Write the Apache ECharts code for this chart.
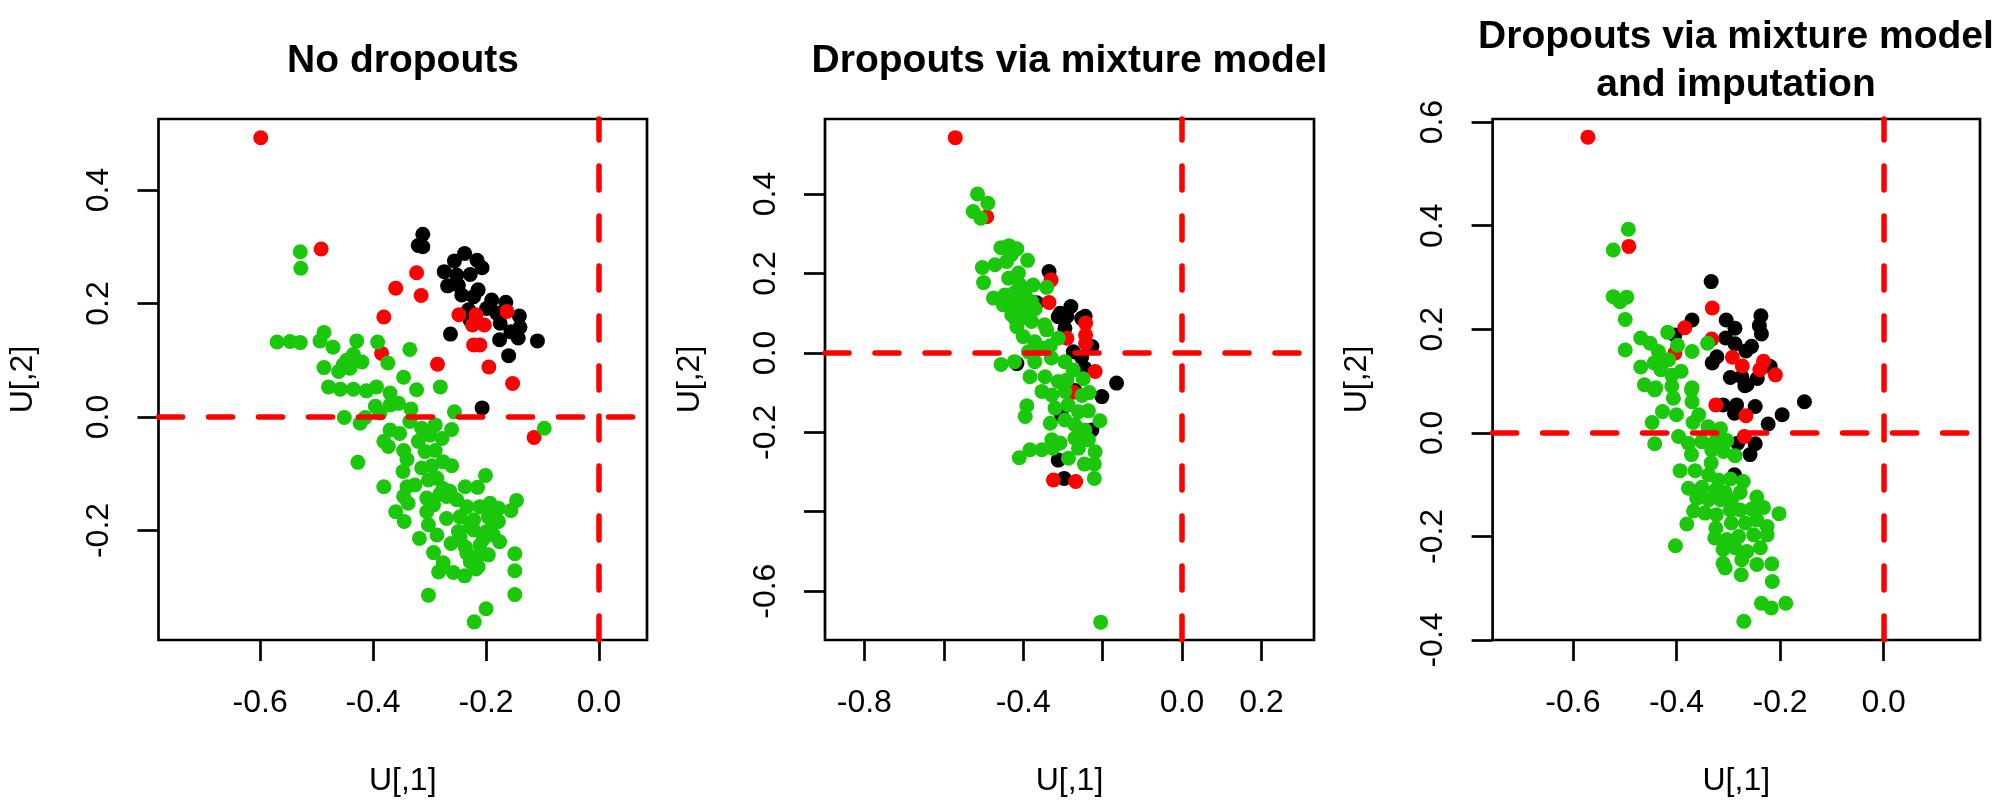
<!DOCTYPE html>
<html>
<head>
<meta charset="utf-8">
<script src="https://cdn.jsdelivr.net/npm/echarts@6/dist/echarts.min.js"></script>
<style>html,body{margin:0;padding:0;background:#fff}#c{width:2000px;height:800px}</style>
</head>
<body>
<div id="c"></div>
<script>
// ---------- Panel titles ----------
const titles = ['No dropouts', 'Dropouts via mixture model', 'Dropouts via mixture model\nand imputation'];

// ---------- Tick values ----------
const p1XTicks = [-0.6, -0.4, -0.2, 0.0];
const p1XLabels = [-0.6, -0.4, -0.2, 0.0];
const p1YTicks = [-0.2, 0.0, 0.2, 0.4];
const p1YLabels = [-0.2, 0.0, 0.2, 0.4];
const p2XTicks = [-0.8, -0.6, -0.4, -0.2, 0.0, 0.2];
const p2XLabels = [-0.8, -0.4, 0.0, 0.2];
const p2YTicks = [-0.6, -0.4, -0.2, 0.0, 0.2, 0.4];
const p2YLabels = [-0.6, -0.2, 0.0, 0.2, 0.4];
const p3XTicks = [-0.6, -0.4, -0.2, 0.0];
const p3XLabels = [-0.6, -0.4, -0.2, 0.0];
const p3YTicks = [-0.4, -0.2, 0.0, 0.2, 0.4, 0.6];
const p3YLabels = [-0.4, -0.2, 0.0, 0.2, 0.4, 0.6];

// ---------- Panel 1: No dropouts ----------
const p1Black = [[-0.312,0.322],[-0.320,0.302],[-0.312,0.300],[-0.238,0.288],[-0.256,0.275],[-0.216,0.276],[-0.207,0.263],[-0.274,0.256],[-0.228,0.251],[-0.252,0.250],[-0.268,0.231],[-0.249,0.232],[-0.243,0.215],[-0.214,0.224],[-0.222,0.212],[-0.190,0.206],[-0.165,0.202],[-0.199,0.191],[-0.231,0.189],[-0.181,0.183],[-0.141,0.178],[-0.175,0.165],[-0.140,0.158],[-0.228,0.170],[-0.156,0.150],[-0.176,0.136],[-0.143,0.139],[-0.109,0.134],[-0.263,0.146],[-0.160,0.108],[-0.207,0.016]];
const p1Red = [[-0.599,0.492],[-0.492,0.296],[-0.323,0.254],[-0.360,0.227],[-0.315,0.214],[-0.381,0.176],[-0.248,0.180],[-0.218,0.180],[-0.224,0.162],[-0.203,0.162],[-0.163,0.186],[-0.222,0.127],[-0.211,0.127],[-0.385,0.112],[-0.286,0.093],[-0.195,0.088],[-0.153,0.059],[-0.115,-0.036]];
const p1Green = [[-0.529,0.291],[-0.528,0.262],[-0.570,0.132],[-0.547,0.133],[-0.529,0.131],[-0.494,0.134],[-0.487,0.149],[-0.471,0.123],[-0.429,0.134],[-0.392,0.132],[-0.335,0.119],[-0.435,0.110],[-0.487,0.087],[-0.461,0.080],[-0.441,0.086],[-0.420,0.097],[-0.447,0.100],[-0.453,0.092],[-0.374,0.095],[-0.346,0.070],[-0.281,0.053],[-0.323,0.048],[-0.479,0.053],[-0.458,0.049],[-0.435,0.049],[-0.412,0.046],[-0.394,0.053],[-0.370,0.042],[-0.355,0.024],[-0.370,0.021],[-0.396,0.019],[-0.388,0.007],[-0.333,0.014],[-0.256,0.009],[-0.451,-0.001],[-0.423,-0.011],[-0.414,-0.001],[-0.335,-0.008],[-0.370,-0.023],[-0.353,-0.029],[-0.314,-0.020],[-0.290,-0.014],[-0.261,-0.022],[-0.381,-0.043],[-0.373,-0.052],[-0.346,-0.059],[-0.320,-0.043],[-0.299,-0.032],[-0.278,-0.038],[-0.308,-0.061],[-0.290,-0.059],[-0.340,-0.075],[-0.427,-0.080],[-0.314,-0.090],[-0.296,-0.086],[-0.276,-0.079],[-0.261,-0.086],[-0.347,-0.096],[-0.287,-0.108],[-0.302,-0.111],[-0.201,-0.103],[-0.381,-0.123],[-0.340,-0.123],[-0.326,-0.120],[-0.276,-0.126],[-0.237,-0.123],[-0.215,-0.124],[-0.346,-0.140],[-0.338,-0.152],[-0.305,-0.143],[-0.293,-0.155],[-0.270,-0.140],[-0.252,-0.146],[-0.234,-0.158],[-0.211,-0.158],[-0.193,-0.152],[-0.178,-0.161],[-0.146,-0.147],[-0.156,-0.165],[-0.360,-0.167],[-0.345,-0.184],[-0.305,-0.167],[-0.270,-0.179],[-0.246,-0.176],[-0.222,-0.181],[-0.196,-0.176],[-0.178,-0.184],[-0.302,-0.190],[-0.287,-0.208],[-0.249,-0.202],[-0.228,-0.193],[-0.199,-0.202],[-0.187,-0.208],[-0.318,-0.214],[-0.262,-0.223],[-0.237,-0.229],[-0.211,-0.226],[-0.176,-0.220],[-0.293,-0.239],[-0.234,-0.240],[-0.211,-0.243],[-0.196,-0.243],[-0.149,-0.241],[-0.276,-0.257],[-0.228,-0.255],[-0.214,-0.264],[-0.284,-0.273],[-0.258,-0.274],[-0.238,-0.280],[-0.218,-0.268],[-0.149,-0.271],[-0.302,-0.314],[-0.149,-0.313],[-0.200,-0.338],[-0.221,-0.361],[-0.097,-0.020],[-0.264,-0.131],[-0.282,-0.136],[-0.222,-0.199],[-0.205,-0.215],[-0.187,-0.188],[-0.246,-0.211]];

// ---------- Panel 2: Dropouts via mixture model ----------
const p2Black = [[-0.335,0.205],[-0.307,0.100],[-0.280,0.117],[-0.290,0.092],[-0.244,0.092],[-0.366,0.126],[-0.312,0.091],[-0.295,0.062],[-0.253,0.087],[-0.227,0.016],[-0.274,0.003],[-0.416,-0.027],[-0.245,-0.039],[-0.165,-0.076],[-0.202,-0.110],[-0.304,-0.156],[-0.227,-0.194],[-0.312,-0.270],[-0.297,-0.316],[-0.270,-0.095],[-0.253,-0.011]];
const p2Red = [[-0.571,0.542],[-0.492,0.343],[-0.330,0.184],[-0.335,0.127],[-0.243,0.075],[-0.243,0.045],[-0.243,0.024],[-0.290,0.037],[-0.219,-0.047],[-0.274,-0.099],[-0.324,-0.320],[-0.268,-0.324]];
const p2Green = [[-0.515,0.400],[-0.489,0.377],[-0.526,0.356],[-0.507,0.339],[-0.456,0.265],[-0.436,0.270],[-0.416,0.262],[-0.389,0.233],[-0.503,0.215],[-0.471,0.222],[-0.442,0.230],[-0.430,0.247],[-0.500,0.177],[-0.437,0.188],[-0.412,0.201],[-0.408,0.171],[-0.375,0.171],[-0.341,0.165],[-0.475,0.138],[-0.446,0.146],[-0.421,0.152],[-0.395,0.146],[-0.379,0.129],[-0.450,0.121],[-0.421,0.121],[-0.400,0.113],[-0.370,0.111],[-0.429,0.096],[-0.406,0.087],[-0.383,0.085],[-0.346,0.071],[-0.421,0.087],[-0.379,0.079],[-0.416,0.066],[-0.341,0.058],[-0.312,0.037],[-0.400,0.041],[-0.371,0.028],[-0.387,0.003],[-0.353,0.012],[-0.332,0.018],[-0.456,-0.029],[-0.422,-0.022],[-0.371,-0.022],[-0.329,-0.013],[-0.295,-0.022],[-0.274,-0.043],[-0.383,-0.060],[-0.345,-0.060],[-0.312,-0.072],[-0.249,-0.065],[-0.353,-0.097],[-0.328,-0.106],[-0.295,-0.097],[-0.234,-0.100],[-0.391,-0.133],[-0.395,-0.160],[-0.320,-0.139],[-0.287,-0.131],[-0.261,-0.148],[-0.236,-0.146],[-0.332,-0.177],[-0.295,-0.169],[-0.270,-0.181],[-0.207,-0.171],[-0.245,-0.194],[-0.328,-0.219],[-0.307,-0.227],[-0.270,-0.215],[-0.236,-0.219],[-0.410,-0.264],[-0.383,-0.244],[-0.353,-0.244],[-0.326,-0.240],[-0.286,-0.265],[-0.261,-0.240],[-0.219,-0.249],[-0.246,-0.280],[-0.221,-0.280],[-0.221,-0.316],[-0.290,-0.068],[-0.252,-0.107],[-0.205,-0.678]];

// ---------- Panel 3: Dropouts via mixture model and imputation ----------
const p3Black = [[-0.333,0.292],[-0.370,0.218],[-0.403,0.189],[-0.304,0.218],[-0.287,0.202],[-0.237,0.226],[-0.240,0.207],[-0.236,0.191],[-0.305,0.183],[-0.287,0.172],[-0.255,0.167],[-0.266,0.158],[-0.322,0.147],[-0.331,0.135],[-0.219,0.128],[-0.296,0.107],[-0.274,0.108],[-0.264,0.093],[-0.244,0.105],[-0.268,0.091],[-0.310,0.054],[-0.284,0.054],[-0.248,0.051],[-0.288,0.038],[-0.196,0.035],[-0.153,0.060],[-0.223,0.017],[-0.282,-0.020],[-0.248,-0.021],[-0.258,-0.042],[-0.288,-0.081]];
const p3Red = [[-0.571,0.571],[-0.492,0.360],[-0.331,0.241],[-0.384,0.203],[-0.332,0.181],[-0.403,0.154],[-0.292,0.146],[-0.273,0.129],[-0.232,0.138],[-0.239,0.122],[-0.209,0.112],[-0.324,0.054],[-0.266,0.033],[-0.269,-0.007]];
const p3Green = [[-0.493,0.393],[-0.522,0.353],[-0.522,0.263],[-0.496,0.262],[-0.509,0.253],[-0.499,0.219],[-0.499,0.160],[-0.469,0.183],[-0.451,0.173],[-0.435,0.157],[-0.417,0.194],[-0.398,0.169],[-0.370,0.157],[-0.340,0.173],[-0.469,0.127],[-0.443,0.135],[-0.427,0.141],[-0.415,0.141],[-0.430,0.122],[-0.391,0.119],[-0.409,0.111],[-0.462,0.093],[-0.440,0.087],[-0.370,0.087],[-0.442,0.083],[-0.409,0.090],[-0.371,0.083],[-0.370,0.060],[-0.406,0.067],[-0.427,0.041],[-0.400,0.035],[-0.357,0.035],[-0.447,0.020],[-0.368,0.020],[-0.339,0.012],[-0.315,0.008],[-0.442,-0.021],[-0.396,-0.007],[-0.377,-0.020],[-0.351,-0.017],[-0.325,-0.017],[-0.303,-0.015],[-0.371,-0.042],[-0.332,-0.033],[-0.309,-0.036],[-0.287,-0.044],[-0.333,-0.058],[-0.393,-0.073],[-0.364,-0.073],[-0.338,-0.081],[-0.319,-0.091],[-0.296,-0.089],[-0.271,-0.094],[-0.377,-0.107],[-0.351,-0.105],[-0.325,-0.111],[-0.306,-0.115],[-0.277,-0.115],[-0.361,-0.126],[-0.338,-0.129],[-0.315,-0.129],[-0.294,-0.130],[-0.245,-0.124],[-0.367,-0.151],[-0.345,-0.155],[-0.323,-0.158],[-0.296,-0.149],[-0.277,-0.149],[-0.255,-0.147],[-0.232,-0.144],[-0.202,-0.156],[-0.380,-0.176],[-0.324,-0.184],[-0.294,-0.174],[-0.267,-0.174],[-0.245,-0.168],[-0.225,-0.181],[-0.326,-0.203],[-0.303,-0.206],[-0.280,-0.200],[-0.251,-0.197],[-0.225,-0.197],[-0.402,-0.218],[-0.310,-0.225],[-0.287,-0.222],[-0.264,-0.229],[-0.238,-0.222],[-0.310,-0.252],[-0.306,-0.261],[-0.274,-0.245],[-0.245,-0.254],[-0.216,-0.253],[-0.275,-0.274],[-0.215,-0.287],[-0.236,-0.329],[-0.217,-0.338],[-0.189,-0.329],[-0.270,-0.364]];

// ---------- Axis ranges ----------
const p1XRange = [-0.780, 0.085], p1YRange = [-0.393, 0.525];
const p2XRange = [-0.899, 0.332], p2YRange = [-0.723, 0.589];
const p3XRange = [-0.755, 0.186], p3YRange = [-0.400, 0.606];

// ---------- Build chart ----------
const FONT = '"Liberation Sans", Arial, Helvetica, sans-serif';
const COL_BLACK = '#000000', COL_RED = '#FF0000', COL_GREEN = '#1AC70B';
const fmt = v => (Math.abs(v) < 1e-9 ? 0 : v).toFixed(1);

const grids = [
  {left: 158.5, top: 119, width: 488.5, height: 521},
  {left: 825, top: 119, width: 489, height: 521},
  {left: 1492.6, top: 119, width: 487.4, height: 521}
].map(g => Object.assign(g, {show: true, borderColor: '#000', borderWidth: 2.7, backgroundColor: 'transparent', containLabel: false, outerBoundsMode: 'none'}));

function xAx(gi, range, ticks, labels) {
  return {
    type: 'value', gridIndex: gi, min: range[0], max: range[1], position: 'bottom',
    name: 'U[,1]', nameLocation: 'middle', nameGap: 125,
    nameTextStyle: {fontSize: 32, color: '#000', fontFamily: FONT},
    axisLine: {show: false, onZero: false},
    axisTick: {show: true, length: 21, lineStyle: {color: '#000', width: 2.7}, customValues: ticks},
    axisLabel: {show: true, fontSize: 32, color: '#000', fontFamily: FONT, margin: 47, customValues: labels, formatter: fmt, hideOverlap: false},
    splitLine: {show: false}
  };
}
function yAx(gi, range, ticks, labels) {
  return {
    type: 'value', gridIndex: gi, min: range[0], max: range[1], position: 'left',
    name: 'U[,2]', nameLocation: 'middle', nameGap: 119, nameRotate: 90,
    nameTextStyle: {fontSize: 32, color: '#000', fontFamily: FONT},
    axisLine: {show: false, onZero: false},
    axisTick: {show: true, length: 21, lineStyle: {color: '#000', width: 2.7}, customValues: ticks},
    axisLabel: {show: true, fontSize: 32, color: '#000', fontFamily: FONT, margin: 43, rotate: 90, customValues: labels, formatter: fmt, hideOverlap: false},
    splitLine: {show: false}
  };
}

const zeroLines = {
  silent: true, symbol: 'none', animation: false, z: 10,
  label: {show: false},
  lineStyle: {color: COL_RED, type: [24, 26], width: 5.5, cap: 'round'},
  emphasis: {disabled: true},
  data: [{xAxis: 0}, {yAxis: 0}]
};

function sc(gi, data, color, withLines) {
  const s = {
    type: 'scatter', xAxisIndex: gi, yAxisIndex: gi, data: data,
    symbol: 'circle', symbolSize: 15, itemStyle: {color: color, opacity: 1},
    silent: true, animation: false
  };
  if (withLines) s.markLine = zeroLines;
  return s;
}

const centers = [403, 1069.5, 1736];
const titleTops = [37, 37, 13];

const option = {
  backgroundColor: '#fff',
  animation: false,
  title: titles.map((t, i) => ({
    text: t, left: centers[i], top: titleTops[i], textAlign: 'center', padding: 0,
    textStyle: {fontSize: 39, fontWeight: 'bold', color: '#000', fontFamily: FONT, lineHeight: 48}
  })),
  grid: grids,
  xAxis: [xAx(0, p1XRange, p1XTicks, p1XLabels), xAx(1, p2XRange, p2XTicks, p2XLabels), xAx(2, p3XRange, p3XTicks, p3XLabels)],
  yAxis: [yAx(0, p1YRange, p1YTicks, p1YLabels), yAx(1, p2YRange, p2YTicks, p2YLabels), yAx(2, p3YRange, p3YTicks, p3YLabels)],
  series: [
    sc(0, p1Black, COL_BLACK, true), sc(0, p1Red, COL_RED), sc(0, p1Green, COL_GREEN),
    sc(1, p2Black, COL_BLACK, true), sc(1, p2Red, COL_RED), sc(1, p2Green, COL_GREEN),
    sc(2, p3Black, COL_BLACK, true), sc(2, p3Red, COL_RED), sc(2, p3Green, COL_GREEN)
  ]
};

const chart = echarts.init(document.getElementById('c'), null, {renderer: 'canvas', width: 2000, height: 800});
chart.setOption(option);
</script>
</body>
</html>
